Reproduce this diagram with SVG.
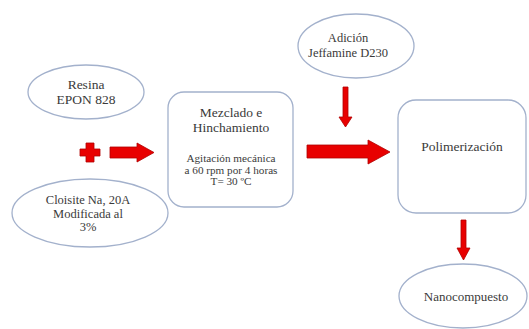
<svg xmlns="http://www.w3.org/2000/svg" width="529" height="329" viewBox="0 0 529 329">
<style>
.n{fill:#fff;stroke:#a3b1cc;stroke-width:1.3}
.t{fill:#3a3a3a;text-anchor:middle}
.a{fill:#e80000;stroke:#b00000;stroke-width:0.8}
</style>
<rect width="529" height="329" fill="#fff"/>
<g font-family="Liberation Serif, Times New Roman, DejaVu Serif, serif">
<g id="resina"><ellipse class="n" cx="86" cy="92" rx="58" ry="27"/>
<text class="t" x="86" y="89" font-size="13.5">Resina</text>
<text class="t" x="86" y="104" font-size="13.5">EPON 828</text></g>
<g id="cloisite"><ellipse class="n" cx="90" cy="213" rx="78" ry="34"/>
<text class="t" x="88" y="204" font-size="12.5">Cloisite Na, 20A</text>
<text class="t" x="88" y="218" font-size="12.5">Modificada al</text>
<text class="t" x="88" y="231" font-size="12.5">3%</text></g>
<g id="mezclado"><rect class="n" x="168" y="92" width="125" height="115" rx="16"/>
<text class="t" x="231" y="117" font-size="13.5">Mezclado e</text>
<text class="t" x="231" y="132" font-size="13.5">Hinchamiento</text>
<text class="t" x="231" y="162" font-size="11.2">Agitación mecánica</text>
<text class="t" x="231" y="174" font-size="11.2">a 60 rpm por 4 horas</text>
<text class="t" x="231" y="185" font-size="11.2">T= 30 ºC</text></g>
<g id="adicion"><ellipse class="n" cx="356" cy="46" rx="58" ry="32"/>
<text class="t" x="348" y="42" font-size="12.5">Adición</text>
<text class="t" x="348" y="57" font-size="12.5">Jeffamine D230</text></g>
<g id="polimerizacion"><rect class="n" x="398" y="100" width="128" height="113" rx="18"/>
<text class="t" x="462" y="151" font-size="13.5">Polimerización</text></g>
<g id="nanocompuesto"><ellipse class="n" cx="463" cy="296" rx="64" ry="32"/>
<text class="t" x="466" y="301" font-size="13">Nanocompuesto</text></g>
</g>
<g id="connectors">
<polygon class="a" points="86,143 94,143 94,149 100,149 100,156 94,156 94,162 86,162 86,156 80,156 80,149 86,149"/>
<polygon class="a" points="110,147 137,147 137,143 154,152.5 137,162 137,158 110,158"/>
<polygon class="a" points="343,87 348,87 348,117 352,117 345.5,127 339,117 343,117"/>
<polygon class="a" points="307,145 368,145 368,140 390,152 368,164 368,158 307,158"/>
<polygon class="a" points="461,220 466,220 466,248 470,248 463.5,260 457,248 461,248"/>
</g>
</svg>
